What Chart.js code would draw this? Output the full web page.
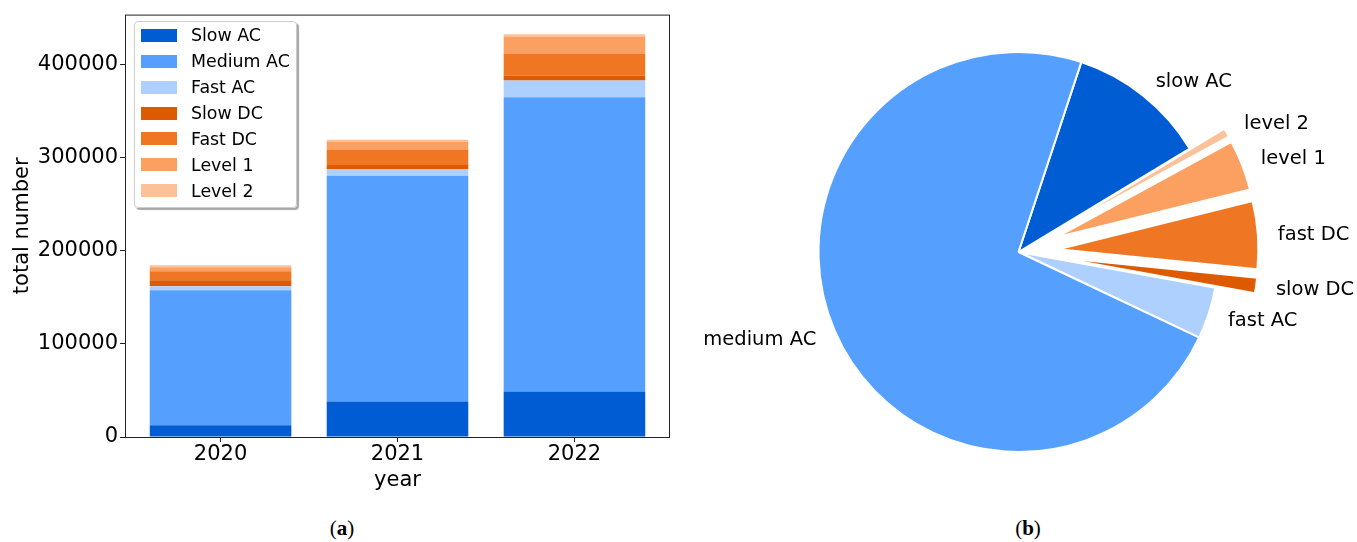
<!DOCTYPE html>
<html>
<head>
<meta charset="utf-8">
<script src="https://cdn.jsdelivr.net/npm/chart.js@4.4.0/dist/chart.umd.min.js"></script>
<style>
  body { margin: 0; width: 1357px; height: 542px; background: #fff; position: relative; overflow: hidden; font-family: "DejaVu Sans", sans-serif; }
  #barCanvas { position: absolute; left: 0; top: 0; }
  #pieCanvas { position: absolute; left: 680px; top: 0; }
  #legend { position: absolute; left: 134px; top: 21px; width: 163px; height: 187px; box-sizing: border-box;
            border: 1px solid #cccccc; border-radius: 4px; background: rgba(255,255,255,0.85);
            box-shadow: 2px 2px 1px rgba(0,0,0,0.35); padding-top: 0.4px; }
  .item { height: 25.9px; display: flex; align-items: center; font-size: 17.4px; color: #000; white-space: nowrap; }
  .swatch { width: 36px; height: 13px; margin-left: 6px; margin-right: 14px; flex: none; }
  .caption { position: absolute; top: 516px; width: 100px; text-align: center; font-family: "Liberation Serif", serif; font-size: 21px; }
</style>
</head>
<body>
<canvas id="barCanvas" width="690" height="500"></canvas>
<canvas id="pieCanvas" width="677" height="504"></canvas>
<div id="legend"></div>
<div class="caption" style="left:292px">(<b>a</b>)</div>
<div class="caption" style="left:978px">(<b>b</b>)</div>
<script>
// charging points per year
const years = ['2020', '2021', '2022'];
const slowAC   = [12500,  38100,  48800];
const mediumAC = [145300, 242600, 316300];
const fastAC   = [4300,   7400,   18100];
const slowDC   = [6400,   4300,   5400];
const fastDC   = [9600,   16600,  23700];
const level1   = [4300,   8200,   17600];
const level2   = [2300,   2300,   3100];
const yTicks   = [0, 100000, 200000, 300000, 400000];

const seriesNames  = ['Slow AC', 'Medium AC', 'Fast AC', 'Slow DC', 'Fast DC', 'Level 1', 'Level 2'];
const pieLabels    = ['slow AC', 'medium AC', 'fast AC', 'slow DC', 'fast DC', 'level 1', 'level 2'];
const seriesColors = ['#005cd2', '#55a0ff', '#add0ff', '#dd5a00', '#ef7622', '#fca062', '#fdc19a'];
const seriesData   = [slowAC, mediumAC, fastAC, slowDC, fastDC, level1, level2];

Chart.defaults.font.family = '"DejaVu Sans", sans-serif';
Chart.defaults.color = '#000';
Chart.defaults.animation = false;

// legend box
const legendBox = document.getElementById('legend');
seriesNames.forEach((name, s) => {
  const row = document.createElement('div');
  row.className = 'item';
  const sw = document.createElement('span');
  sw.className = 'swatch';
  sw.style.background = seriesColors[s];
  row.appendChild(sw);
  row.appendChild(document.createTextNode(name));
  legendBox.appendChild(row);
});

// box around the plot area
const frame = {
  id: 'frame',
  afterDraw(chart) {
    const a = chart.chartArea, ctx = chart.ctx;
    ctx.save();
    ctx.strokeStyle = '#222';
    ctx.lineWidth = 1;
    ctx.strokeRect(a.left + 0.5, a.top + 0.5, a.right - a.left - 1, a.bottom - a.top);
    ctx.restore();
  }
};

const tickGrid = { drawOnChartArea: false, drawTicks: true, tickLength: 5, color: '#222', offset: false };
const axisFont = { size: 21 };

new Chart(document.getElementById('barCanvas'), {
  type: 'bar',
  data: {
    datasets: seriesNames.map((name, s) => ({
      label: name,
      data: seriesData[s].map((v, i) => ({ x: i, y: v })),
      backgroundColor: seriesColors[s],
      barPercentage: 0.8,
      categoryPercentage: 1
    }))
  },
  options: {
    responsive: false,
    layout: { padding: { top: 12, right: 20, left: 0, bottom: 0 } },
    plugins: { legend: { display: false }, tooltip: { enabled: false } },
    scales: {
      x: {
        type: 'linear', stacked: true, offset: false, min: -0.54, max: 2.54,
        afterBuildTicks: sc => { sc.ticks = years.map((y, i) => ({ value: i })); },
        afterFit: sc => { sc.height = 63; },
        grid: tickGrid,
        border: { display: false },
        ticks: { font: axisFont, padding: 0, maxRotation: 0, callback: v => years[v] },
        title: { display: true, text: 'year', font: axisFont, padding: { top: 0, bottom: 7 } }
      },
      y: {
        stacked: true, min: 0, max: 454000,
        afterBuildTicks: sc => { sc.ticks = yTicks.map(v => ({ value: v })); },
        afterFit: sc => { sc.width = 125; },
        grid: tickGrid,
        border: { display: false },
        ticks: { font: axisFont, padding: 2, callback: v => String(v) },
        title: { display: true, text: 'total number', font: axisFont, padding: { top: 10, bottom: 0 } }
      }
    }
  },
  plugins: [frame]
});

// 2022 share, wedges listed clockwise starting from slow AC
const pieYear = 2;
const pieOrder = [0, 6, 5, 4, 3, 2, 1];
const pieExplode = pieOrder.map(s => (s >= 3 ? 0.2 : 0));

const explodedPie = {
  id: 'explodedPie',
  beforeDatasetDraw(chart, args) {
    const ctx = chart.ctx;
    args.meta.data.forEach((arc, i) => {
      const mid = (arc.startAngle + arc.endAngle) / 2;
      const shift = pieExplode[i] * arc.outerRadius;
      ctx.save();
      ctx.translate(Math.cos(mid) * shift, Math.sin(mid) * shift);
      arc.draw(ctx);
      ctx.restore();
    });
    return false;
  },
  afterDatasetsDraw(chart) {
    const ctx = chart.ctx;
    const meta = chart.getDatasetMeta(0);
    ctx.save();
    ctx.font = '19.5px "DejaVu Sans"';
    ctx.fillStyle = '#000';
    ctx.textBaseline = 'middle';
    meta.data.forEach((arc, i) => {
      const mid = (arc.startAngle + arc.endAngle) / 2;
      const dist = (pieExplode[i] + 1.1) * arc.outerRadius;
      ctx.textAlign = Math.cos(mid) >= 0 ? 'left' : 'right';
      ctx.fillText(chart.data.labels[i], arc.x + Math.cos(mid) * dist, arc.y + Math.sin(mid) * dist + 1.5);
    });
    ctx.restore();
  }
};

new Chart(document.getElementById('pieCanvas'), {
  type: 'pie',
  data: {
    labels: pieOrder.map(s => pieLabels[s]),
    datasets: [{
      data: pieOrder.map(s => seriesData[s][pieYear]),
      backgroundColor: pieOrder.map(s => seriesColors[s]),
      borderColor: '#fff',
      borderWidth: 2
    }]
  },
  options: {
    responsive: false,
    radius: 200,
    rotation: 18.3,
    layout: { padding: 0 },
    plugins: { legend: { display: false }, tooltip: { enabled: false } }
  },
  plugins: [explodedPie]
});
</script>
</body>
</html>
